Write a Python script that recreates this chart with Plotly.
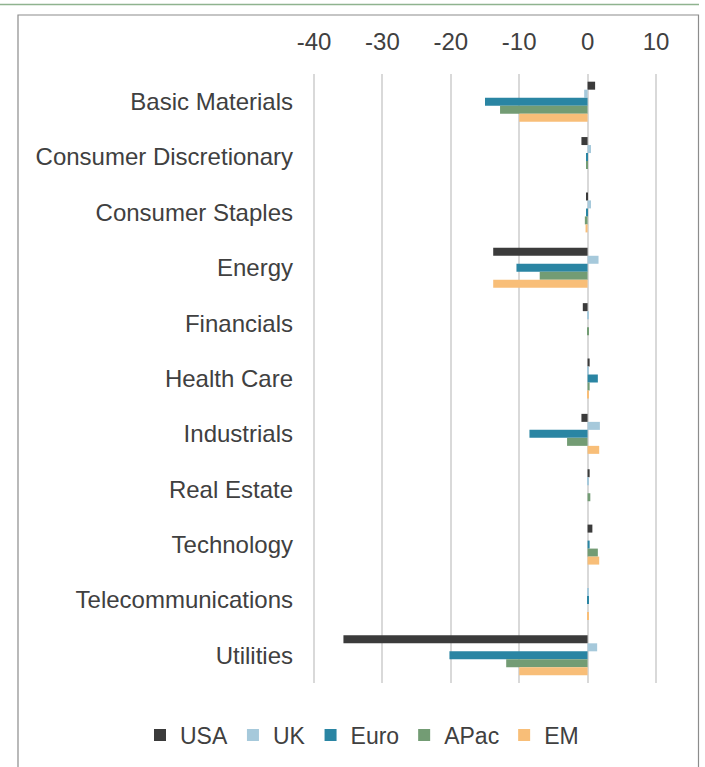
import plotly.graph_objects as go

# Sectors listed top to bottom
sectors = [
    "Basic Materials", "Consumer Discretionary", "Consumer Staples", "Energy",
    "Financials", "Health Care", "Industrials", "Real Estate", "Technology",
    "Telecommunications", "Utilities",
]

# Regional values per sector
usa = [1.1, -0.9, -0.2, -13.8, -0.7, 0.3, -0.9, 0.3, 0.7, 0.0, -35.7]
uk = [-0.5, 0.5, 0.5, 1.6, 0.1, 0.1, 1.8, 0.1, 0.0, 0.1, 1.4]
euro = [-15.0, -0.2, -0.1, -10.4, 0.0, 1.5, -8.5, 0.0, 0.3, 0.1, -20.2]
apac = [-12.8, -0.1, -0.4, -7.0, 0.2, 0.3, -3.0, 0.4, 1.5, 0.0, -11.9]
em = [-10.0, 0.0, -0.3, -13.8, 0.0, 0.1, 1.7, 0.0, 1.7, 0.1, -10.0]

series = [
    ("USA", usa, "#3B3B3B"),
    ("UK", uk, "#A6C9DB"),
    ("Euro", euro, "#2A85A3"),
    ("APac", apac, "#739C74"),
    ("EM", em, "#F8BE78"),
]

x_ticks = [-40, -30, -20, -10, 0, 10]
x_tick_text = ["-40", "-30", "-20", "-10", "0", "10"]

FONT = "Liberation Sans, Arial, sans-serif"
TEXT = "#404040"

W, H = 705, 767
L, R, T, B = 313, 48, 74, 84
pw, ph = W - L - R, H - T - B


def px_x(v):
    return (v - L) / pw


def px_y(v):
    return (H - B - v) / ph


fig = go.Figure()
for name, vals, color in series:
    fig.add_trace(go.Bar(
        y=sectors, x=vals, name=name, orientation="h",
        marker=dict(color=color, line=dict(width=0)),
    ))

fig.update_layout(
    width=W, height=H,
    margin=dict(l=L, r=R, t=T, b=B, autoexpand=False),
    paper_bgcolor="white", plot_bgcolor="white",
    barmode="group", bargap=0.2775, bargroupgap=0,
    font=dict(family=FONT, size=24, color=TEXT),
    xaxis=dict(
        # a hair of padding so the outer gridlines at -40 and 10 are drawn
        side="top", range=[-40.15, 10.15], tickvals=x_ticks, ticktext=x_tick_text,
        showgrid=True, gridcolor="#D9D9D9", gridwidth=2,
        zeroline=False, showline=False, ticks="",
        ticklabelstandoff=18,
        tickfont=dict(size=24, color=TEXT),
    ),
    yaxis=dict(
        categoryorder="array", categoryarray=sectors, autorange="reversed",
        showgrid=False, zeroline=False, showline=False, ticks="",
        ticklabelstandoff=19,
        tickfont=dict(size=24, color=TEXT),
    ),
    legend=dict(
        orientation="h",
        x=px_x(140), xanchor="left",
        y=px_y(735), yanchor="middle",
        font=dict(size=23, color=TEXT), itemwidth=30,
        traceorder="normal",
    ),
    shapes=[
        # thin rule across the top of the page
        dict(type="line", xref="paper", yref="paper",
             x0=px_x(0), x1=px_x(699), y0=px_y(4.5), y1=px_y(4.5),
             line=dict(color="#8FB38F", width=1.5)),
        # frame around the chart
        dict(type="rect", xref="paper", yref="paper",
             x0=px_x(18), x1=px_x(698.5), y0=px_y(15), y1=px_y(800),
             line=dict(color="#8C8C8C", width=1.2), fillcolor="rgba(0,0,0,0)",
             layer="below"),
    ],
)

fig.write_html("out.html")
